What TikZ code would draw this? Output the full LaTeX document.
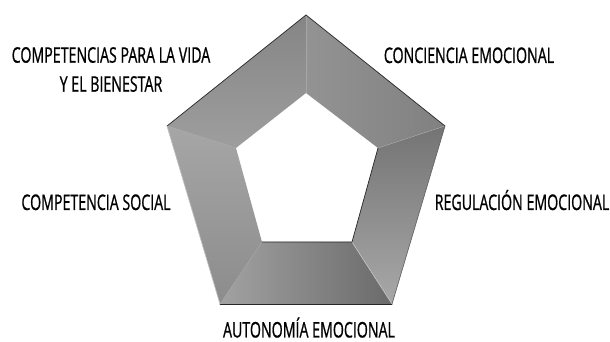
\documentclass[tikz,border=0pt]{standalone}
\usepackage{fontspec}
\setmainfont{Open Sans}[FakeStretch=0.66, FakeBold=0.8]
\usetikzlibrary{positioning}
\definecolor{segTL}{HTML}{939393}
\definecolor{segTR}{HTML}{878787}
\definecolor{segRa}{HTML}{747474}
\definecolor{segRb}{HTML}{A8A8A8}
\definecolor{segBa}{HTML}{A2A2A2}
\definecolor{segBb}{HTML}{6A6A6A}
\definecolor{segLa}{HTML}{A6A6A6}
\definecolor{segLb}{HTML}{8C8C8C}
\tikzset{
   lbl/.style={font=\fontsize{21.5}{29}\selectfont, align=center, inner sep=0pt, text=black},
   rim/.style={draw=black!85, line width=0.7pt, line cap=round},
   seam/.style={draw=gray!70, line width=0.4pt},
}

\begin{document}
\begin{tikzpicture}[x=1pt, y=1pt]
    \useasboundingbox (0,0) rectangle (610,342);

    % outer pentagon
    \coordinate (oa) at (306,327);
    \coordinate (ob) at (445,216);
    \coordinate (oc) at (392,38);
    \coordinate (od) at (220,38);
    \coordinate (oe) at (167,216);

    % inner pentagon
    \coordinate (ia) at (306,249);
    \coordinate (ib) at (378,194);
    \coordinate (ic) at (352,100);
    \coordinate (id) at (262,100);
    \coordinate (ie) at (236,194);

    \shade[left color=segLb!95!black, right color=segTL!90!white, shading angle=0]
        (oe) -- (oa) -- (ia) -- (ie) -- cycle;
    \shade[left color=segTR!90!white, right color=segTR!95!black]
        (oa) -- (ob) -- (ib) -- (ia) -- cycle;
    \shade[top color=segRa, bottom color=segRb]
        (ob) -- (oc) -- (ic) -- (ib) -- cycle;
    \shade[left color=segBa, right color=segBb]
        (oc) -- (od) -- (id) -- (ic) -- cycle;
    \shade[top color=segLa, bottom color=segLb]
        (od) -- (oe) -- (ie) -- (id) -- cycle;

    \draw[seam] (oa) -- (ia);
    \draw[seam] (ob) -- (ib);
    \draw[draw=gray!45, line width=0.6pt] (oc) -- (ic);
    \draw[seam] (od) -- (id);
    \draw[seam] (oe) -- (ie);

    \draw[rim] (oe) -- (oa) -- (ob);
    \draw[rim, draw=black!60] (ob) -- (oc);
    \draw[rim] (oc) -- (od);
    \draw[rim] (ib) -- (ic) -- (id);
    \draw[rim, draw=gray!50] (od) -- (oe);

    \node[lbl] (vida)  at (111,272.5) {COMPETENCIAS PARA LA VIDA\\Y EL BIENESTAR};
    \node[lbl, anchor=base] (conc)  at (469,279) {CONCIENCIA EMOCIONAL};
    \node[lbl, anchor=base] (soc)   at (96,132)  {COMPETENCIA SOCIAL};
    \node[lbl, anchor=base] (reg)   at (522,132) {REGULACIÓN EMOCIONAL};
    \node[lbl, anchor=base] (auto)  at (309,4.5) {AUTONOMÍA EMOCIONAL};

\end{tikzpicture}
\end{document}
